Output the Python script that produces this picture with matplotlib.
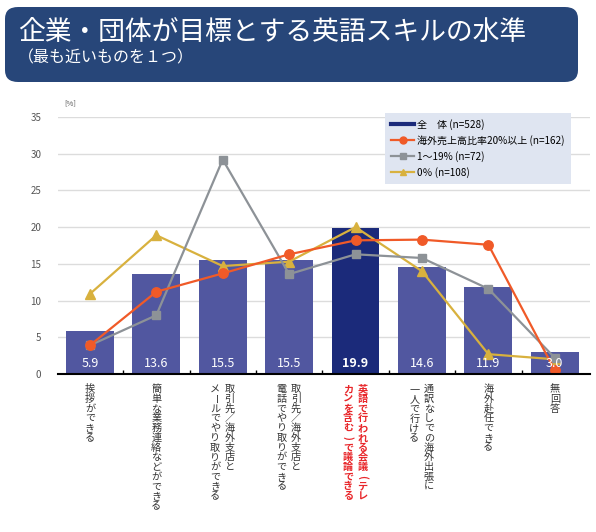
import matplotlib
matplotlib.use("Agg")
import matplotlib.pyplot as plt
from matplotlib.patches import FancyBboxPatch
from matplotlib.lines import Line2D
import numpy as np

plt.rcParams['font.family'] = ['Noto Sans CJK JP', 'DejaVu Sans']

categories = [
    ["挨拶ができる"],
    ["簡単な業務連絡などができる"],
    ["取引先／海外支店と", "メールでやり取りができる"],
    ["取引先／海外支店と", "電話でやり取りができる"],
    ["英語で行われる会議(テレ", "カンを含む)で議論できる"],
    ["通訳なしでの海外出張に", "一人で行ける"],
    ["海外赴任できる"],
    ["無回答"],
]
total = [5.9, 13.6, 15.5, 15.5, 19.9, 14.6, 11.9, 3.0]
over20 = [3.9, 11.2, 13.7, 16.3, 18.2, 18.3, 17.6, 0.5]
mid = [3.9, 8.0, 29.2, 13.6, 16.3, 15.8, 11.6, 2.2]
zero = [10.9, 18.9, 14.7, 15.3, 20.0, 14.0, 2.7, 2.0]
legend_labels = ["全　体 (n=528)", "海外売上高比率20%以上 (n=162)", "1～19% (n=72)", "0％ (n=108)"]
yticks = [0, 5, 10, 15, 20, 25, 30, 35]
highlight = 4

bar_c = "#5157a0"
hi_c = "#1b2a7a"
orange = "#f05a28"
gray = "#8d9297"
yellow = "#d8b13e"

fig = plt.figure(figsize=(5.96, 5.32), dpi=100)

# title box
box = FancyBboxPatch((5/596, 1-82/532), 573/596, 75/532,
                     boxstyle="round,pad=0,rounding_size=0.022",
                     transform=fig.transFigure, facecolor="#274679", edgecolor="none")
fig.patches.append(box)
fig.text(18/596, 1-33/532, "企業・団体が目標とする英語スキルの水準", color="white",
         fontsize=19.3, va="center", ha="left")
fig.text(18/596, 1-58/532, "（最も近いものを１つ）", color="white",
         fontsize=11.5, va="center", ha="left")

ax = fig.add_axes([58/596, 158/532, 532/596, 257/532])
x = np.arange(len(total))
colors = [hi_c if i == highlight else bar_c for i in x]
ax.bar(x, total, width=0.72, color=colors, zorder=2)
ax.plot(x, zero, color=yellow, marker="^", markersize=6.5, lw=1.6, zorder=3)
ax.plot(x, mid, color=gray, marker="s", markersize=6.3, lw=1.6, zorder=4)
ax.plot(x, over20, color=orange, marker="o", markersize=6.8, lw=1.6, zorder=5)

for i, v in enumerate(total):
    ax.text(i, 1.4, f"{v:.1f}", ha="center", va="center", color="white",
            fontsize=9, fontweight="bold" if i == highlight else "normal", zorder=6)

ax.set_xlim(-0.48, 7.53)
ax.set_ylim(0, 35)
ax.set_yticks(yticks)
ax.tick_params(axis="y", length=0, pad=12, labelsize=7, labelcolor="#555555")
ax.yaxis.grid(True, color="#dcdcdc", lw=1, zorder=0)
ax.set_axisbelow(True)
for s in ["left", "right", "top"]:
    ax.spines[s].set_visible(False)
ax.spines["bottom"].set_linewidth(1.5)
ax.spines["bottom"].set_zorder(7)
ax.set_xticks(np.arange(0.5, 7.5, 1))
ax.set_xticklabels([])
ax.tick_params(axis="x", direction="in", length=3, width=1)
ax.text(-0.3, 36.8, "[%]", fontsize=5.5, color="#555555", ha="center", va="center")

# vertical category labels
pitch = 7.0
for i, cols in enumerate(categories):
    n = len(cols)
    offs = [0] if n == 1 else [5.0, -5.5]
    red = (i == highlight)
    for col, dx in zip(cols, offs):
        for k, ch in enumerate(col):
            rot = -90 if ch in "()ー" else 0
            ax.annotate(ch, xy=(i, 0), xycoords="data",
                        xytext=(dx, -11 - k * pitch), textcoords="offset points",
                        ha="center", va="center", fontsize=7.3, rotation=rot,
                        color="#e8262a" if red else "#333333",
                        fontweight="bold" if red else "normal",
                        annotation_clip=False)

handles = [
    Line2D([], [], color=hi_c, lw=3),
    Line2D([], [], color=orange, lw=1.6, marker="o", markersize=5),
    Line2D([], [], color=gray, lw=1.6, marker="s", markersize=5),
    Line2D([], [], color=yellow, lw=1.6, marker="^", markersize=5),
]
leg = ax.legend(handles, legend_labels, loc="upper left",
                bbox_to_anchor=((380-58)/532, (374-108)/257),
                fontsize=7.2, frameon=True, fancybox=False, handlelength=2.3,
                handletextpad=0.3, borderpad=0.6, labelspacing=0.5)
leg.get_frame().set_facecolor("#dfe5f1")
leg.get_frame().set_edgecolor("none")
leg.get_frame().set_alpha(1)
leg.set_zorder(10)

fig.savefig("out.png", dpi=100)
